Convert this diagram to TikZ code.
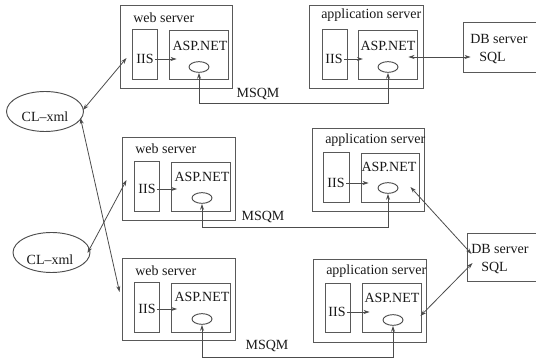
\documentclass[tikz,border=0pt]{standalone}
\usepackage{fontspec}
\setmainfont{Liberation Serif}
\usetikzlibrary{arrows.meta,fit,shapes.geometric}
\begin{document}
\begin{tikzpicture}[x=0.75pt,y=-0.75pt,
  box/.style={draw=black!65, line width=0.7pt, inner sep=0pt},
  txt/.style={font=\fontsize{10.5}{12}\selectfont, inner sep=0pt, text=black!90},
  lbl/.style={txt, anchor=west},
  oval/.style={draw=black!70, line width=0.7pt, ellipse, inner sep=0pt, minimum width=15pt, minimum height=8pt},
  bigoval/.style={draw=black!70, line width=0.7pt, ellipse, inner sep=0pt, minimum width=57.75pt, minimum height=30pt},
  con/.style={draw=black!70, line width=0.6pt},
  tip/.style={-{Stealth[length=4.5pt,width=3pt]}},
  tips/.style={{Stealth[length=4.5pt,width=3pt]}-{Stealth[length=4.5pt,width=3pt]}},
]
\useasboundingbox (0,0) rectangle (536,363);

% ---------- row A ----------
\node[box, fit={(120,5) (232,88)}] (w1) {};
\node[lbl] (w1l) at (133,18) {web server};
\node[box, fit={(132,29) (157,79)}] (iw1b) {};
\node[txt] (iw1) at (145,59) {IIS};
\node[box, fit={(169,30) (228,79)}] (sw1) {};
\node[txt] (sw1t) at (200,46) {ASP.NET};
\node[oval] (ew1) at (199,67) {};

\node[box, fit={(309,5) (423,88)}] (a1) {};
\node[lbl] (a1l) at (321,15) {application server};
\node[box, fit={(322,29) (347,79)}] (ia1b) {};
\node[txt] (ia1) at (334,59) {IIS};
\node[box, fit={(358,30) (417,79)}] (sa1) {};
\node[txt] (sa1t) at (388,46) {ASP.NET};
\node[oval] (ea1) at (388,67) {};

\node[box, fit={(463,22) (538,72)}] (db1) {};
\node[lbl] (db1a) at (470,39) {DB server};
\node[lbl] (db1b) at (479,58) {SQL};

% ---------- row B ----------
\node[box, fit={(122,137) (235,220)}] (w2) {};
\node[lbl] (w2l) at (135,149) {web server};
\node[box, fit={(134,161) (159,211)}] (iw2b) {};
\node[txt] (iw2) at (147,189) {IIS};
\node[box, fit={(171,162) (230,211)}] (sw2) {};
\node[txt] (sw2t) at (202,177) {ASP.NET};
\node[oval] (ew2) at (202,198) {};

\node[box, fit={(312,128) (424,211)}] (a2) {};
\node[lbl] (a2l) at (325,140) {application server};
\node[box, fit={(323,152) (349,202)}] (ia2b) {};
\node[txt] (ia2) at (336,183) {IIS};
\node[box, fit={(361,153) (419,202)}] (sa2) {};
\node[txt] (sa2t) at (389,167) {ASP.NET};
\node[oval] (ea2) at (388,188) {};

\node[box, fit={(467,233) (538,281)}] (db2) {};
\node[lbl] (db2a) at (471,249) {DB server};
\node[lbl] (db2b) at (481,268) {SQL};

% ---------- row C ----------
\node[box, fit={(122,258) (235,340)}] (w3) {};
\node[lbl] (w3l) at (135,271) {web server};
\node[box, fit={(134,282) (159,332)}] (iw3b) {};
\node[txt] (iw3) at (147,309) {IIS};
\node[box, fit={(171,283) (230,332)}] (sw3) {};
\node[txt] (sw3t) at (202,297) {ASP.NET};
\node[oval] (ew3) at (202,319) {};

\node[box, fit={(313,259) (426,342)}] (a3) {};
\node[lbl] (a3l) at (326,271) {application server};
\node[box, fit={(325,283) (350,332)}] (ia3b) {};
\node[txt] (ia3) at (337,312) {IIS};
\node[box, fit={(362,283) (421,332)}] (sa3) {};
\node[txt] (sa3t) at (392,298) {ASP.NET};
\node[oval] (ea3) at (393,320) {};

% ---------- clients ----------
\node[bigoval] (cl1) at (45,111.5) {};
\node[txt] (cl1t) at (45,117) {CL--xml};
\node[bigoval] (cl2) at (51.5,252.5) {};
\node[txt] (cl2t) at (50,260) {CL--xml};

% ---------- IIS -> ASP.NET ----------
\draw[con,tip] ([xshift=1pt]iw1.east) -- ([xshift=6pt]sw1.west |- iw1.east);
\draw[con,tip] ([xshift=1pt]ia1.east) -- ([xshift=4pt]sa1.west |- ia1.east);
\draw[con,tip] ([xshift=1pt]iw2.east) -- ([xshift=5pt]sw2.west |- iw2.east);
\draw[con,tip] ([xshift=1pt]ia2.east) -- ([xshift=6pt]sa2.west |- ia2.east);
\draw[con,tip] ([xshift=1pt]iw3.east) -- ([xshift=5pt]sw3.west |- iw3.east);
\draw[con,tip] ([xshift=1pt]ia3.east) -- ([xshift=6pt]sa3.west |- ia3.east);

% ---------- MSQM ----------
\coordinate (m1) at (0,103);
\coordinate (m2) at (0,227);
\coordinate (m3) at (0,357);
\draw[con,tips] (ew1.south) -- (ew1.south |- m1) -| (ea1.south);
\draw[con,tips] (ew2.south) -- (ew2.south |- m2) -| (ea2.south);
\draw[con,tips] (ew3.south) -- (ew3.south |- m3) -| (ea3.south);
\node[txt] (q1) at (258,94) {MSQM};
\node[txt] (q2) at (263,217) {MSQM};
\node[txt] (q3) at (267,346) {MSQM};

% ---------- ASP.NET <-> DB ----------
\draw[con,tips] ([shift={(-9,2.5)}]sa1.east) -- ([shift={(8,10)}]db1.west);
\draw[con,tips] ([shift={(-9,9.5)}]sa2.east) -- ([shift={(5,-3)}]db2.west);
\draw[con,tips] ([shift={(-1,8.5)}]sa3.east) -- ([shift={(6,6)}]db2.west);

% ---------- clients <-> web servers ----------
\draw[con,tips] ([shift={(-1,-1.5)}]cl1.east) -- ([shift={(7,11.5)}]w1.west);
\draw[con,tips] ([shift={(-3.5,6.5)}]cl1.east) -- ([shift={(-2,-7)}]w3.west);
\draw[con,tips] ([shift={(-3,0.5)}]cl2.east) -- ([shift={(5,1.5)}]w2.west);
\end{tikzpicture}
\end{document}
